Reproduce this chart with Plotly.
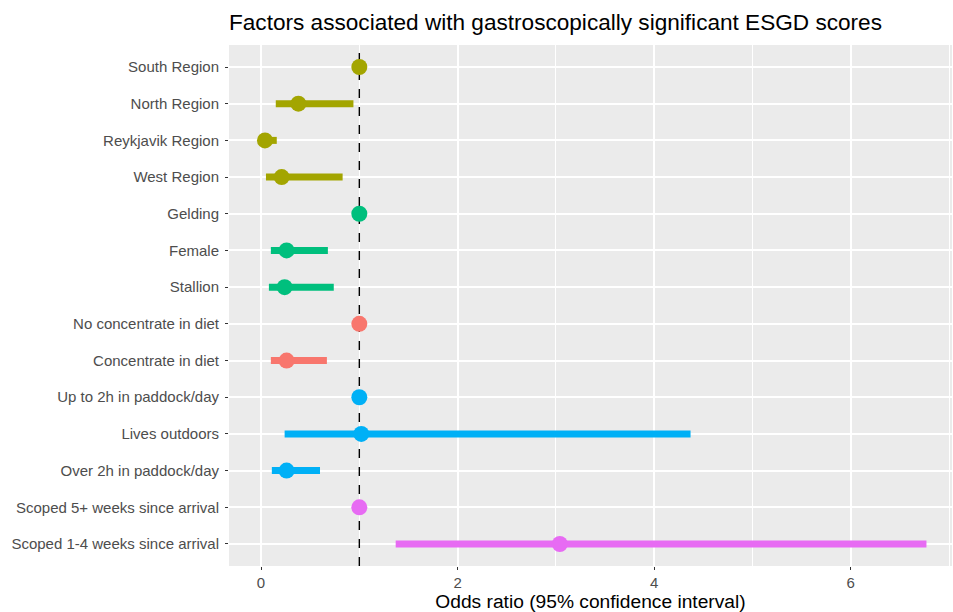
import plotly.graph_objects as go

# Data
categories = [
    "South Region", "North Region", "Reykjavik Region", "West Region",
    "Gelding", "Female", "Stallion",
    "No concentrate in diet", "Concentrate in diet",
    "Up to 2h in paddock/day", "Lives outdoors", "Over 2h in paddock/day",
    "Scoped 5+ weeks since arrival", "Scoped 1-4 weeks since arrival",
]
groups = [
    "Region", "Region", "Region", "Region",
    "Sex", "Sex", "Sex",
    "Diet", "Diet",
    "Paddock", "Paddock", "Paddock",
    "Scoped", "Scoped",
]
odds_ratio = [1.0, 0.38, 0.04, 0.21, 1.0, 0.26, 0.24, 1.0, 0.26, 1.0, 1.02, 0.26, 1.0, 3.04]
ci_low = [None, 0.15, 0.01, 0.05, None, 0.10, 0.08, None, 0.10, None, 0.24, 0.11, None, 1.37]
ci_high = [None, 0.94, 0.16, 0.83, None, 0.68, 0.74, None, 0.67, None, 4.37, 0.60, None, 6.77]
REF_OR = 1.0

group_colors = {
    "Diet": "#F8766D",
    "Region": "#A3A500",
    "Sex": "#00BF7D",
    "Paddock": "#00B0F6",
    "Scoped": "#E76BF3",
}

pos = list(range(len(categories)))
y_range = [len(categories) - 1 + 0.6, -0.6]

fig = go.Figure()

# confidence intervals
for g, col in group_colors.items():
    xs, ys = [], []
    for p, gg, lo, hi in zip(pos, groups, ci_low, ci_high):
        if gg == g and lo is not None:
            xs += [lo, hi, None]
            ys += [p, p, None]
    if xs:
        fig.add_trace(go.Scatter(x=xs, y=ys, mode="lines",
                                 line=dict(color=col, width=7),
                                 showlegend=False, hoverinfo="skip"))

# reference line at OR = 1 (spans the whole panel)
fig.add_trace(go.Scatter(x=[REF_OR, REF_OR], y=y_range, mode="lines",
                         line=dict(color="black", width=1.4, dash="dash"),
                         showlegend=False, hoverinfo="skip"))

# point estimates
for g, col in group_colors.items():
    xs = [o for o, gg in zip(odds_ratio, groups) if gg == g]
    ys = [p for p, gg in zip(pos, groups) if gg == g]
    fig.add_trace(go.Scatter(x=xs, y=ys, mode="markers",
                             marker=dict(color=col, size=16, line=dict(width=0)),
                             showlegend=False))

fig.update_layout(
    width=953, height=612,
    margin=dict(l=229, r=1, t=45, b=46, autoexpand=False),
    paper_bgcolor="white",
    plot_bgcolor="#EBEBEB",
    font=dict(family="Liberation Sans, Arial, sans-serif", color="#4D4D4D", size=15),
    title=dict(text="Factors associated with gastroscopically significant ESGD scores",
               x=229 / 953, xanchor="left", y=1 - 22 / 612, yanchor="middle",
               font=dict(size=22.6, color="black")),
    showlegend=False,
)

fig.update_xaxes(
    range=[-0.326, 7.03],
    tick0=0, dtick=2,
    showgrid=True, gridcolor="white", gridwidth=1.5,
    minor=dict(dtick=1, tick0=1, showgrid=True, gridcolor="white", gridwidth=0.7),
    zeroline=False,
    ticks="outside", ticklen=3, tickcolor="#333333", tickwidth=1,
    tickfont=dict(size=15, color="#4D4D4D"),
    title=dict(text="Odds ratio (95% confidence interval)", font=dict(size=19.2, color="black"),
               standoff=3),
    automargin=False,
)
fig.update_yaxes(
    range=y_range,
    tickmode="array", tickvals=pos, ticktext=categories,
    showgrid=True, gridcolor="white", gridwidth=1.5,
    zeroline=False,
    ticks="outside", ticklen=3, tickcolor="#333333", tickwidth=1,
    tickfont=dict(size=15, color="#4D4D4D"),
    ticklabelstandoff=3,
    automargin=False,
)

fig.write_html("out.html", config={"displayModeBar": False},
               post_script="document.body.style.margin='0';")
